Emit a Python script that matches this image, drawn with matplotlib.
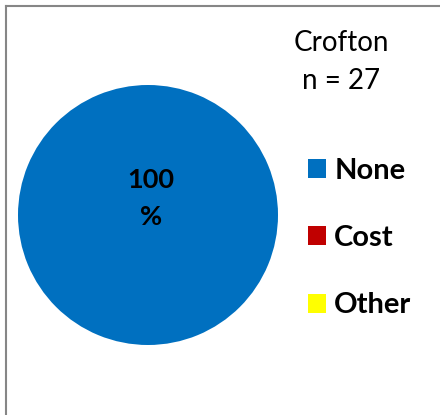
import matplotlib
matplotlib.use('Agg')
import matplotlib.pyplot as plt
from matplotlib.lines import Line2D

plt.rcParams['font.family'] = ['Lato', 'DejaVu Sans']

# data
categories = ['None', 'Cost', 'Other']
shares = [100, 0, 0]
colors = ['#0070C0', '#C00000', '#FFFF00']
site = 'Crofton'
n_resp = 27

W, H = 440, 415
fig = plt.figure(figsize=(W / 100, H / 100), dpi=100)

# pie axes: center (148, 215), radius 130 px
ax = fig.add_axes([18 / W, (H - 345) / H, 260 / W, 260 / H])
wedges, _ = ax.pie(shares, colors=colors, startangle=90, counterclock=False,
                   wedgeprops=dict(linewidth=0))
ax.set_xlim(-1, 1)
ax.set_ylim(-1, 1)
ax.set_aspect('equal')
ax.text(0.02, 0.125, f'{shares[0]}\n%', ha='center', va='center',
        fontsize=19.5, fontweight='bold', linespacing=1.65)

# title
fig.text(341 / W, 1 - 62 / H, f'{site}\nn = {n_resp}', ha='center', va='center',
         fontsize=20, linespacing=1.6)

# legend
fig.legend(wedges, categories, loc='center left',
           bbox_to_anchor=(308 / W, 1 - 238 / H),
           frameon=False, handlelength=0.62, handleheight=0.62, handletextpad=0.28,
           labelspacing=1.42, borderaxespad=0, borderpad=0,
           prop=dict(size=21, weight='bold'))

# frame (only top and left edges visible)
frame_kw = dict(color='#868686', linewidth=1.5, transform=fig.transFigure)
fig.add_artist(Line2D([6 / W, 1], [1 - 6 / H, 1 - 6 / H], **frame_kw))
fig.add_artist(Line2D([6 / W, 6 / W], [1 - 6 / H, 0], **frame_kw))

fig.savefig('out.png', dpi=100)
